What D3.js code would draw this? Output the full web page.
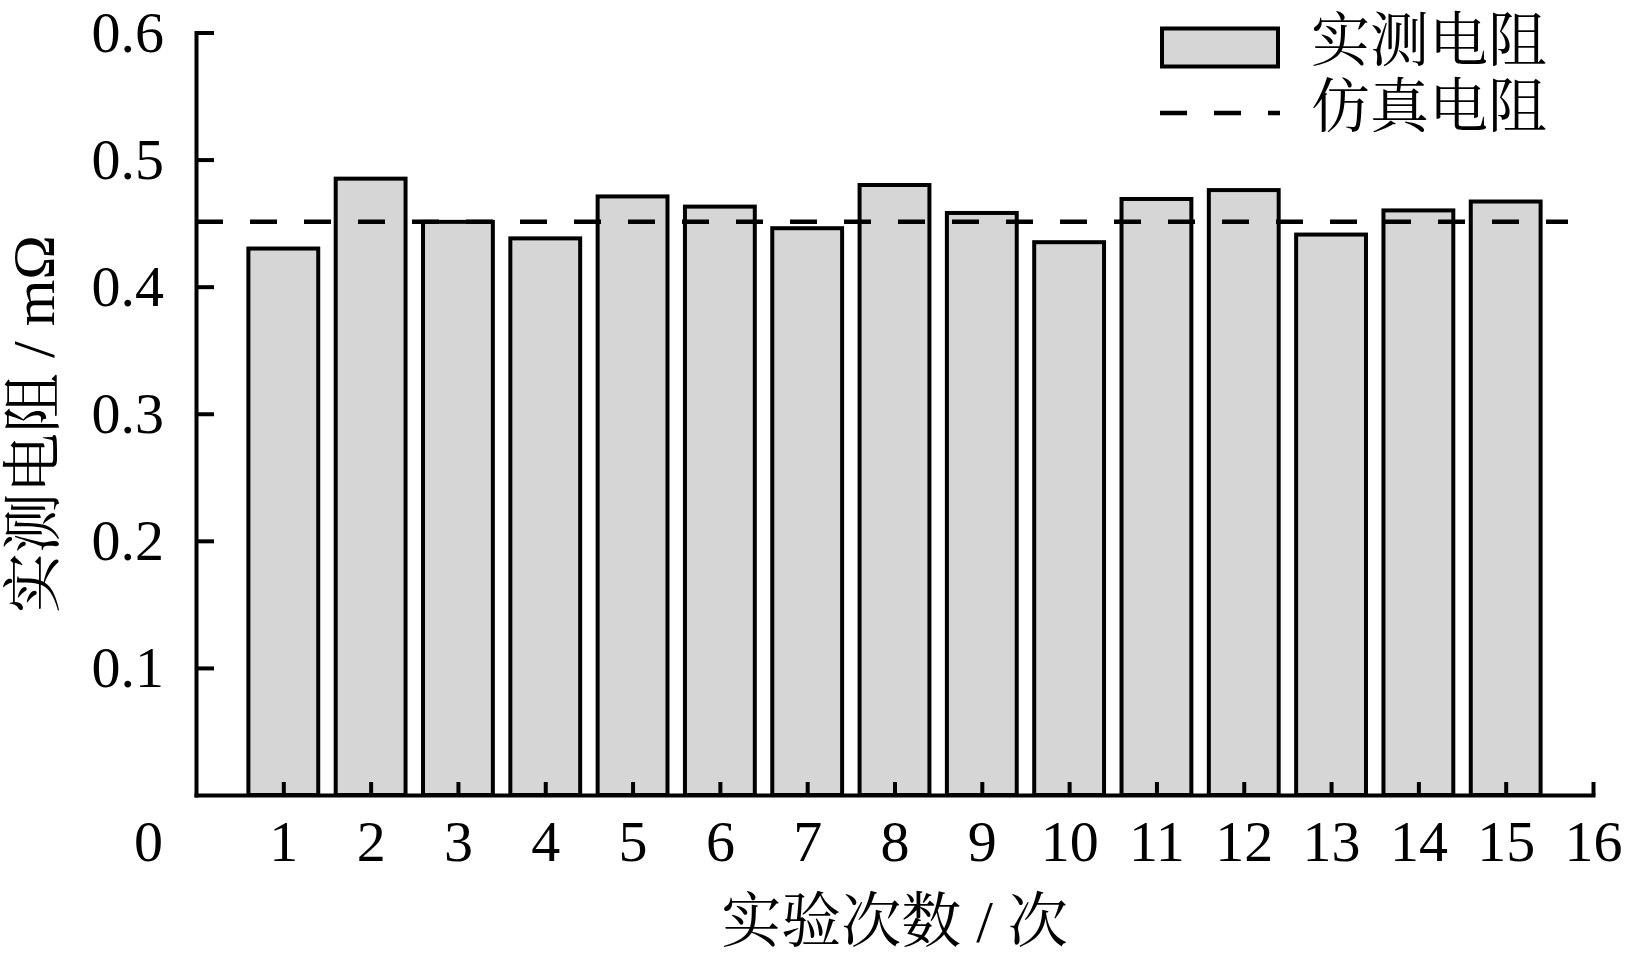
<!DOCTYPE html>
<html>
<head>
<meta charset="utf-8">
<script src="https://cdn.jsdelivr.net/npm/d3@7"></script>
<style>
  html, body { margin: 0; padding: 0; background: #fff; }
  svg { display: block; }
  text { font-family: "Liberation Serif", "Noto Serif CJK SC", "Noto Sans CJK SC", serif; fill: #000; }
</style>
</head>
<body>
<svg id="chart" width="1625" height="962"></svg>
<script>
const categories = [1, 2, 3, 4, 5, 6, 7, 8, 9, 10, 11, 12, 13, 14, 15];
const measured = [0.430, 0.485, 0.451, 0.438, 0.471, 0.463, 0.446, 0.480, 0.458, 0.435, 0.469, 0.476, 0.441, 0.460, 0.467];
const simulated = 0.451;
const xTicks = [1, 2, 3, 4, 5, 6, 7, 8, 9, 10, 11, 12, 13, 14, 15, 16];
const yTicks = [0.1, 0.2, 0.3, 0.4, 0.5, 0.6];
const seriesNames = ["实测电阻", "仿真电阻"];
const xTitle = "实验次数 / 次";
const yTitle = "实测电阻 / mΩ";

(function () {
const svg = d3.select("#chart");
const mLeft = 196, mRight = 1593, mTop = 32.5, mBottom = 795;

const x = d3.scaleLinear().domain([0, 16]).range([mLeft, mRight]);
const y = d3.scaleLinear().domain([0, 0.6]).range([mBottom, mTop]);
const barW = 0.8 * (x(1) - x(0));

// Bars
svg.append("g").selectAll("rect").data(categories).join("rect")
  .attr("x", (d) => x(d) - barW / 2)
  .attr("y", (d, i) => y(measured[i]))
  .attr("width", barW)
  .attr("height", (d, i) => y(0) - y(measured[i]))
  .attr("fill", "#d6d6d6")
  .attr("stroke", "#000")
  .attr("stroke-width", 4);

// Simulated dashed line
svg.append("line")
  .attr("x1", x(0)).attr("x2", 1568)
  .attr("y1", y(simulated)).attr("y2", y(simulated))
  .attr("stroke", "#000").attr("stroke-width", 4.5)
  .attr("stroke-dasharray", "27,27");

// Axes
const yAxis = d3.axisLeft(y).tickValues(yTicks).tickFormat(d3.format(".1f"))
  .tickSizeInner(-18).tickSizeOuter(0).tickPadding(32);
const gy = svg.append("g").attr("transform", `translate(${mLeft},0)`).call(yAxis);

const xAxis = d3.axisBottom(x).tickValues(xTicks).tickFormat(d3.format("d"))
  .tickSizeInner(-13).tickSizeOuter(0).tickPadding(25);
const gx = svg.append("g").attr("transform", `translate(0,${mBottom})`).call(xAxis);

[gx, gy].forEach(g => {
  g.select(".domain").attr("stroke", "#000").attr("stroke-width", 4).attr("stroke-linecap", "square");
  g.selectAll(".tick line").attr("stroke", "#000").attr("stroke-width", 4);
  g.selectAll(".tick text").attr("font-size", 58).attr("font-family", "Liberation Serif, serif");
});

// Origin label "0"
gx.append("text")
  .attr("x", x(0) - 33).attr("y", 25).attr("dy", "0.71em")
  .attr("text-anchor", "end")
  .attr("font-size", 58).attr("font-family", "Liberation Serif, serif")
  .attr("fill", "#000")
  .text("0");

// Axis titles
svg.append("text")
  .attr("x", (mLeft + mRight) / 2).attr("y", 921).attr("dy", "0.35em")
  .attr("text-anchor", "middle").attr("font-size", 60)
  .text(xTitle);

svg.append("text")
  .attr("transform", `translate(33,424) rotate(-90)`)
  .attr("dy", "0.35em")
  .attr("text-anchor", "middle").attr("font-size", 60)
  .text(yTitle);

// Legend
const lg = svg.append("g");
lg.append("rect")
  .attr("x", 1162).attr("y", 28.5).attr("width", 116).attr("height", 38)
  .attr("fill", "#d6d6d6").attr("stroke", "#000").attr("stroke-width", 4);
lg.append("line")
  .attr("x1", 1160).attr("x2", 1280).attr("y1", 113).attr("y2", 113)
  .attr("stroke", "#000").attr("stroke-width", 4.5).attr("stroke-dasharray", "27,27");
lg.append("text").attr("x", 1311).attr("y", 40).attr("dy", "0.36em")
  .attr("font-size", 59).text(seriesNames[0]);
lg.append("text").attr("x", 1311).attr("y", 106).attr("dy", "0.36em")
  .attr("font-size", 59).text(seriesNames[1]);
})();
</script>
</body>
</html>
